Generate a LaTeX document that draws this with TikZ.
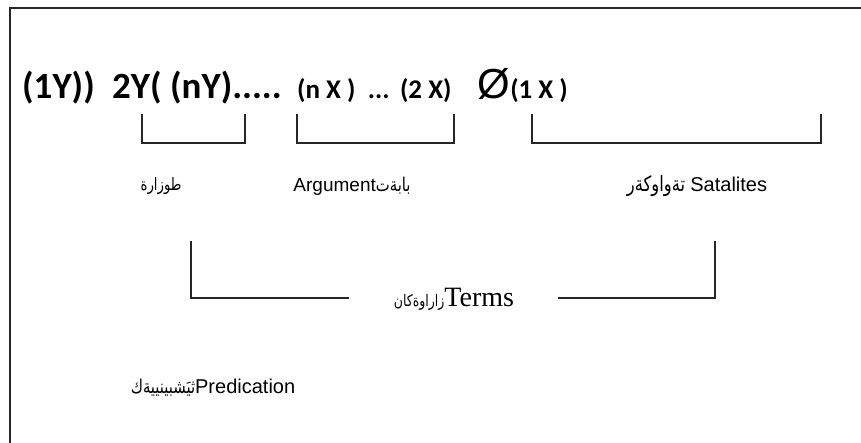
\documentclass[tikz,border=0pt]{standalone}
\usepackage{fontspec}
\usepackage{graphicx}
\setmainfont{Liberation Sans}
\newfontfamily\calib{Carlito}
\newfontfamily\timesf{Liberation Serif}
\newfontfamily\arabicfont[Script=Arabic]{DejaVu Sans}
\TeXXeTstate=1
\usetikzlibrary{positioning}
\newcommand{\fs}[1]{\fontsize{#1}{#1}\selectfont}
\newcommand{\ar}[2]{{\arabicfont\fs{#1}\scalebox{0.78}[1]{\beginR #2\endR}}}
\tikzstyle{frame}   = [draw=black!85, line width=1.6pt]
\tikzstyle{brack}   = [draw=black!85, line width=1.4pt]
\tikzstyle{big}     = [inner sep=0pt, anchor=base west, font=\calib\bfseries\fs{37}]
\tikzstyle{small}   = [inner sep=0pt, anchor=base west, font=\calib\bfseries\fs{27}]
\tikzstyle{label}   = [inner sep=1pt, font=\fs{19}]

\begin{document}
\begin{tikzpicture}[x=1pt,y=-1pt]
\useasboundingbox (0,0) rectangle (861,443);

% outer frame, cut off at right and bottom
\draw[frame] (10,450) -- (10,8) -- (870,8);

% formula
\node[big] (Y1) at (22,99) {(1Y))};
\node[big] (Y2) at (112,99) {2Y( (nY).....};
\node[small] (Xn) at (297,99) {(n X )\ \ ...\ \,(2 X)};
\node[inner sep=0pt, anchor=base west, font=\fs{42}] (O) at (477,99) {Ø};
\node[small] (X1) at (O.base east) {(1 X )};

% small brackets
\coordinate (a1) at (142,114); \coordinate (a2) at (245,114);
\coordinate (b1) at (297,114); \coordinate (b2) at (454,114);
\coordinate (c1) at (532,114); \coordinate (c2) at (821,114);
\draw[brack] (a1) -- (a1 |- 0,143) -- (a2 |- 0,143) -- (a2);
\draw[brack] (b1) -- (b1 |- 0,143) -- (b2 |- 0,143) -- (b2);
\draw[brack] (c1) -- (c1 |- 0,143) -- (c2 |- 0,143) -- (c2);

% labels
\node[label] (pred) at (161,186) {\ar{17}{طوزارة}};
\node[label] (arg) at (352,186) {Argument\ar{19}{بابةت}};
\node[label] (sat) at (697,186) {\ar{21}{تةواوكةر} \fs{20}Satalites};

% big bracket
\node[label] (terms) at (454,299) {\ar{16}{زاراوةكان}\timesf\fs{28}Terms};
\coordinate (t1) at (191,241); \coordinate (t2) at (715,241);
\draw[brack] (t1) -- (t1 |- 0,298) -- (349,298);
\draw[brack] (558,298) -- (t2 |- 0,298) -- (t2);

\node[label] (predication) at (213,388) {\ar{19}{ثيَشبينييةك}\fs{20}Predication};
\end{tikzpicture}
\end{document}
